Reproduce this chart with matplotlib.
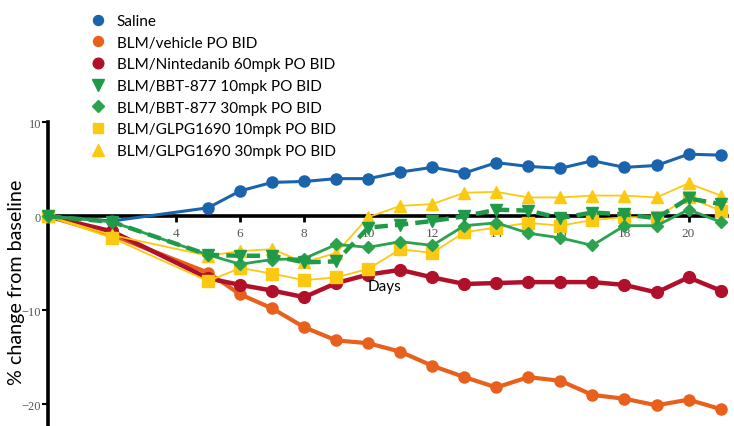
import matplotlib
matplotlib.use("Agg")
import matplotlib.pyplot as plt
from matplotlib.lines import Line2D

# Study days with a body-weight reading
days = [0, 2, 5, 6, 7, 8, 9, 10, 11, 12, 13, 14, 15, 16, 17, 18, 19, 20, 21]

saline = [0, -0.5, 0.9, 2.7, 3.6, 3.7, 4.0, 4.0, 4.7, 5.2, 4.6, 5.7, 5.3, 5.1,
          5.9, 5.2, 5.4, 6.6, 6.5]
vehicle = [0, -2.0, -6.0, -8.3, -9.8, -11.8, -13.2, -13.5, -14.4, -15.9, -17.1,
           -18.2, -17.1, -17.5, -19.0, -19.4, -20.1, -19.5, -20.5]
nintedanib = [0, -1.6, -6.6, -7.3, -7.9, -8.6, -7.1, -6.2, -5.7, -6.5, -7.2,
              -7.1, -7.0, -7.0, -7.0, -7.3, -8.1, -6.5, -7.9]
bbt_10 = [0, -0.6, -4.1, -4.2, -4.2, -4.9, -4.8, -1.2, -0.9, -0.5, 0.0, 0.7,
          0.6, -0.2, 0.4, 0.2, -0.2, 1.9, 1.3]
bbt_30 = [0, -0.6, -4.1, -5.1, -4.6, -4.5, -3.0, -3.3, -2.7, -3.1, -1.0, -0.7,
          -1.8, -2.3, -3.1, -1.0, -1.0, 0.7, -0.6]
glpg_10 = [0, -2.3, -6.9, -5.5, -6.1, -6.8, -6.5, -5.6, -3.5, -3.9, -1.7, -1.2,
           -0.7, -1.0, -0.4, -0.1, -0.1, 2.0, 0.6]
glpg_30 = [0, -2.0, -4.2, -3.7, -3.5, -4.9, -3.9, -0.1, 1.1, 1.3, 2.5, 2.6,
           2.0, 2.0, 2.2, 2.2, 2.0, 3.5, 2.2]

x_ticks = [4, 6, 8, 10, 12, 14, 16, 18, 20]
y_ticks = [10, 0, -10, -20]

BLUE = "#1a63ad"
ORANGE = "#e8601c"
RED = "#b0102a"
GREEN_DK = "#1f9a48"
GREEN = "#2aa24e"
YELLOW = "#fcc912"

# (label, values, colour, marker, markersize, linewidth, linestyle)
series = [
    ("Saline", saline, BLUE, "o", 8, 2.2, "-"),
    ("BLM/vehicle PO BID", vehicle, ORANGE, "o", 8, 3.0, "-"),
    ("BLM/Nintedanib 60mpk PO BID", nintedanib, RED, "o", 8.5, 3.2, "-"),
    ("BLM/GLPG1690 10mpk PO BID", glpg_10, YELLOW, "s", 8, 1.3, "-"),
    ("BLM/GLPG1690 30mpk PO BID", glpg_30, YELLOW, "^", 9, 1.3, "-"),
    ("BLM/BBT-877 30mpk PO BID", bbt_30, GREEN, "D", 6.5, 2.0, "-"),
    ("BLM/BBT-877 10mpk PO BID", bbt_10, GREEN_DK, "v", 9, 3.2, (0, (3, 1.6))),
]

fig = plt.figure(figsize=(7.34, 4.27), dpi=100)
ax = fig.add_axes([0, 0, 1, 1])

for label, vals, color, mk, ms, lw, ls in series:
    ax.plot(days, vals, color=color, lw=lw, ls=ls, marker=mk, ms=ms,
            mec=color, mfc=color, clip_on=False, label=label)

ax.set_xlim(-1.5, 21.42)
ax.set_ylim(-22.3, 23.1)

for side in ("top", "right"):
    ax.spines[side].set_visible(False)
ax.spines["left"].set_position(("data", 0))
ax.spines["bottom"].set_position(("data", 0))
ax.spines["left"].set_bounds(-22.5, 10)
ax.spines["bottom"].set_bounds(0, 21.2)
ax.spines["left"].set_linewidth(2.6)
ax.spines["bottom"].set_linewidth(2.6)
ax.spines["left"].set_zorder(1)
ax.spines["bottom"].set_zorder(1)

ax.set_xticks(x_ticks)
ax.set_yticks(y_ticks)
ax.tick_params(axis="x", direction="out", length=4, width=2, pad=4,
               labelsize=9.5, labelcolor="#555555")
ax.tick_params(axis="y", direction="out", length=4, width=1.5, pad=1,
               labelsize=9, labelcolor="#555555")
for lab in ax.get_xticklabels() + ax.get_yticklabels():
    lab.set_family("Liberation Serif")

ax.text(10.5, -7.45, "Days", fontsize=11, ha="center", va="center",
        family="Lato")
ax.text(-0.98, -6.9, "% change from baseline", fontsize=14.2, rotation=90,
        ha="center", va="center", family="Lato")

# legend shows markers only, in the original entry order
order = ["Saline", "BLM/vehicle PO BID", "BLM/Nintedanib 60mpk PO BID",
         "BLM/BBT-877 10mpk PO BID", "BLM/BBT-877 30mpk PO BID",
         "BLM/GLPG1690 10mpk PO BID", "BLM/GLPG1690 30mpk PO BID"]
style = {s[0]: s for s in series}
handles = [Line2D([], [], ls="none", marker=style[n][3], ms=style[n][4] * 0.9,
                  color=style[n][2]) for n in order]
leg = ax.legend(handles, order, loc="upper left", bbox_to_anchor=(0.104, 0.997),
                frameon=False, labelspacing=0.50,
                handlelength=1.0, handletextpad=0.75,
                prop={"family": "Lato", "size": 11})

fig.savefig("out.png", dpi=100)
